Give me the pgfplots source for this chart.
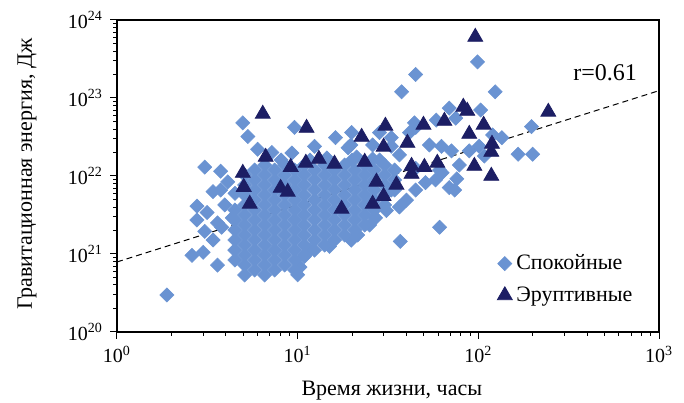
\documentclass[border=0pt]{standalone}
\usepackage{fontspec}
\setmainfont{LiberationSerif}[Extension=.ttf, UprightFont=*-Regular, BoldFont=*-Bold, ItalicFont=*-Italic, BoldItalicFont=*-BoldItalic]
\usepackage{pgfplots}
\usepackage{pgfplotstable}
\pgfplotsset{compat=1.18}
\definecolor{calm}{RGB}{106,147,210}
\definecolor{erupt}{RGB}{28,30,100}

\pgfplotstableread{
x y
1.89 2.98e20
2.6 9.6e20
3.0 1.05e21
3.6 7.2e20
3.06 1.3e22
3.75 1.15e22
2.77 4.1e21
2.77 2.73e21
3.06 1.95e21
3.15 3.4e21
3.4 6.3e21
3.75 6.6e21
3.6 2.5e21
3.95 4.25e21
4.1 8.4e21
4.35 2.9e21
3.4 1.51e21
3.8 2.2e21
4.5 6.0e21
4.97 4.8e22
5.3 3.2e22
6.0 2.2e22
7.2 2.0e22
8.1 1.6e22
9.6 4.2e22
9.3 1.97e22
12.4 2.4e22
16.2 3.1e22
19.9 3.6e22
19.7 2.5e22
21.2 1.75e22
28.4 3.6e22
28.4 1.6e22
33.0 2.4e22
44.3 4.8e22
37.6 1.2e23
45 2.0e23
99 2.9e23
124 1.2e23
69 7.4e22
58.5 5.2e22
75 5.5e22
103 7.0e22
197 4.3e22
135 3.1e22
166 1.9e22
200 1.9e22
53.6 2.5e22
62.5 2.4e22
71 2.1e22
89 2.1e22
101 2.4e22
108 1.8e22
78.5 1.38e22
63 1.1e22
45 1.25e22
76 9.2e21
120 3.36e22
41.6 3.6e22
45 4.2e22
33 6.6e21
40 4.9e21
45 6.6e21
51 8.2e21
58 8.9e21
69 7.1e21
74 6.6e21
61 1.19e22
61 2.2e21
37 1.45e21
21.5 1.75e21
19.8 1.5e21
15 1.25e21
11.7 1.12e21
10.9 9.3e20
10.3 6.8e20
10 5.4e20
25 2.35e21
27 2.9e21
31 3.6e21
36.6 4.0e21
14.5 1.7e22
11.7 1.6e22
19 2.3e22
26 2.5e22
33 3.1e22
36.6 1.86e22
26 1.65e22
20 1.6e22
4.49 3.66e21
4.49 2.73e21
4.49 2.03e21
4.49 1.51e21
4.49 1.12e21
4.49 8.37e20
5.09 1.03e22
5.09 7.67e21
5.09 5.70e21
5.09 4.25e21
5.09 3.16e21
5.09 2.35e21
5.09 1.75e21
5.09 1.30e21
5.09 9.71e20
5.09 7.22e20
5.09 5.38e20
5.78 1.19e22
5.78 8.89e21
5.78 6.62e21
5.78 4.92e21
5.78 3.66e21
5.78 2.73e21
5.78 2.03e21
5.78 1.51e21
5.78 1.12e21
5.78 8.37e20
5.78 6.23e20
6.57 1.38e22
6.57 1.03e22
6.57 7.67e21
6.57 5.70e21
6.57 4.25e21
6.57 3.16e21
6.57 2.35e21
6.57 1.75e21
6.57 1.30e21
6.57 9.71e20
6.57 7.22e20
6.57 5.38e20
7.46 1.19e22
7.46 8.89e21
7.46 6.62e21
7.46 4.92e21
7.46 3.66e21
7.46 2.73e21
7.46 2.03e21
7.46 1.51e21
7.46 1.12e21
7.46 8.37e20
7.46 6.23e20
8.47 1.38e22
8.47 1.03e22
8.47 7.67e21
8.47 5.70e21
8.47 4.25e21
8.47 3.16e21
8.47 2.35e21
8.47 1.75e21
8.47 1.30e21
8.47 9.71e20
8.47 7.22e20
9.62 1.19e22
9.62 8.89e21
9.62 6.62e21
9.62 4.92e21
9.62 3.66e21
9.62 2.73e21
9.62 2.03e21
9.62 1.51e21
9.62 1.12e21
9.62 8.37e20
9.62 6.23e20
10.9 1.38e22
10.9 1.03e22
10.9 7.67e21
10.9 5.70e21
10.9 4.25e21
10.9 3.16e21
10.9 2.35e21
10.9 1.75e21
10.9 1.30e21
10.9 9.71e20
12.4 1.19e22
12.4 8.89e21
12.4 6.62e21
12.4 4.92e21
12.4 3.66e21
12.4 2.73e21
12.4 2.03e21
12.4 1.51e21
12.4 1.12e21
14.1 1.38e22
14.1 1.03e22
14.1 7.67e21
14.1 5.70e21
14.1 4.25e21
14.1 3.16e21
14.1 2.35e21
14.1 1.75e21
14.1 1.30e21
16.0 1.19e22
16.0 8.89e21
16.0 6.62e21
16.0 4.92e21
16.0 3.66e21
16.0 2.73e21
16.0 2.03e21
16.0 1.51e21
18.2 1.38e22
18.2 1.03e22
18.2 7.67e21
18.2 5.70e21
18.2 4.25e21
18.2 3.16e21
18.2 2.35e21
18.2 1.75e21
20.7 1.19e22
20.7 8.89e21
20.7 6.62e21
20.7 4.92e21
20.7 3.66e21
20.7 2.73e21
20.7 2.03e21
23.5 1.38e22
23.5 1.03e22
23.5 7.67e21
23.5 5.70e21
23.5 4.25e21
23.5 3.16e21
23.5 2.35e21
26.6 1.19e22
26.6 8.89e21
26.6 6.62e21
26.6 4.92e21
26.6 3.66e21
30.3 1.38e22
30.3 1.03e22
30.3 7.67e21
30.3 5.70e21
30.3 4.25e21
34.4 1.19e22
34.4 8.89e21
34.4 6.62e21
}\calmdata

\pgfplotstableread{
x y
6.41 6.24e22
11.2 4.12e22
22.6 3.16e22
30.6 4.38e22
29.9 2.36e22
6.65 1.75e22
9.15 1.30e22
11.1 1.47e22
13.1 1.65e22
16.0 1.43e22
23.5 1.51e22
4.97 1.09e22
5.03 7.2e21
5.43 4.38e21
8.05 7.0e21
8.81 6.24e21
17.5 3.78e21
26.0 4.38e21
27.3 8.4e21
29.9 5.5e21
35.2 7.7e21
40.5 2.65e22
42.7 1.34e22
42.7 1.06e22
49.7 4.51e22
64.9 5.07e22
82.6 7.67e22
86.9 6.81e22
107 4.51e22
89.1 3.45e22
119 2.57e22
118 2.03e22
50.3 1.30e22
59.3 1.47e22
95.1 1.34e22
118 1.0e22
96.2 6.05e23
244 6.62e22
}\eruptdata

\begin{document}
\begin{tikzpicture}
\begin{axis}[
  scale only axis, width=271pt, height=156pt,
  xmode=log, ymode=log,
  xmin=1, xmax=1000, ymin=1e20, ymax=1e24,
  axis line style={line width=0.6pt},
  tick style={black, line width=0.5pt},
  tick align=outside, tick pos=left,
  major tick length=3.5pt, minor tick length=2pt,
  /pgf/number format/assume math mode=true,
  log number format basis/.code 2 args={#1\textsuperscript{\pgfmathprintnumber{#2}}},
  ticklabel style={font=\fontsize{10}{12}\selectfont},
  xlabel={Время жизни, часы},
  ylabel={Гравитационная энергия, Дж},
  label style={font=\fontsize{11}{13}\selectfont},
  x label style={at={(axis description cs:0.507,-0.205)}, anchor=base},
  y label style={at={(axis description cs:-0.166,0.506)}, anchor=center},
  legend style={draw=none, fill=none, at={(axis description cs:0.69,0.275)}, anchor=north west,
    font=\fontsize{11}{13}\selectfont, row sep=3pt, cells={anchor=west}},
]
\addplot[forget plot, black, line width=0.5pt, dash pattern=on 3pt off 2pt] coordinates {(1,7.9e20) (1000,1.24e23)};
\addplot[only marks, mark=square*, mark size=2.5pt, mark options={rotate=45, draw=calm, fill=calm, line width=0.3pt}] table[x=x, y=y] {\calmdata};
\addlegendentry{Спокойные}
\addplot[only marks, mark=triangle*, mark size=4.3pt, mark options={draw=erupt, fill=erupt}] table[x=x, y=y] {\eruptdata};
\addlegendentry{Эруптивные}
\node[font=\fontsize{12}{14}\selectfont] at (axis cs:503,2.09e23) {r=0.61};
\end{axis}
\pgfresetboundingbox
\path ([xshift=-58.5pt,yshift=-35.5pt]current axis.south west) rectangle ([xshift=12.5pt,yshift=10pt]current axis.north east);
\end{tikzpicture}
\end{document}
